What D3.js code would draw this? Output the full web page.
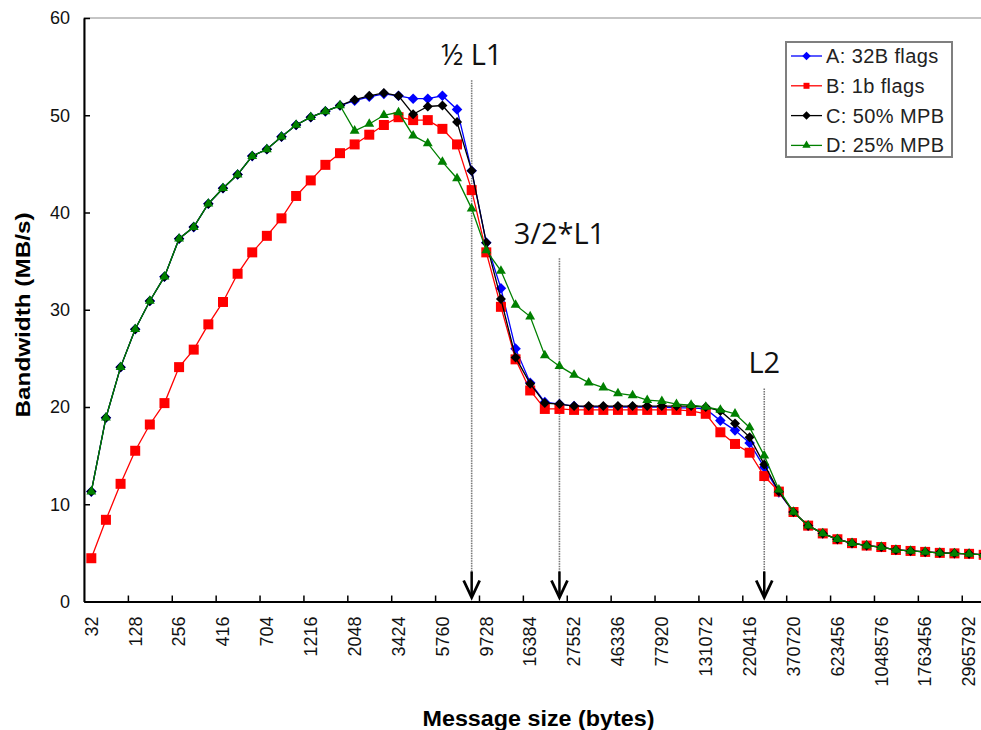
<!DOCTYPE html>
<html>
<head>
<meta charset="utf-8">
<script src="https://cdn.jsdelivr.net/npm/d3@7"></script>
<style>
  body { margin: 0; background: #fff; }
  svg { display: block; font-family: "Liberation Sans", Arial, sans-serif; }
</style>
</head>
<body>
<svg id="chart" width="981" height="730"></svg>
<script>
// tick labels, one every 3 categories (62 message sizes in total)
var tickLabels = ["32","128","256","416","704","1216","2048","3424","5760","9728","16384",
  "27552","46336","77920","131072","220416","370720","623456","1048576","1763456","2965792"];

var seriesA = [11.3,18.9,24.1,28.0,30.9,33.4,37.3,38.5,40.9,42.5,43.9,45.8,46.5,47.8,49.0,49.8,50.4,51.0,
  51.5,51.9,52.2,52.0,51.7,51.7,52.0,50.6,44.3,36.9,32.2,26.0,22.5,20.5,20.3,
  20.1,20.0,20.0,20.0,20.0,20.0,20.0,19.9,19.9,19.8,
  18.6,17.6,16.3,13.8,11.2,
  9.2,7.8,7.0,6.4,6.0,5.75,5.6,5.3,5.2,5.1,5.0,4.95,4.9,4.8];

var seriesB = [4.45,8.4,12.1,15.5,18.2,20.4,24.1,25.9,28.5,30.8,33.7,35.9,37.6,39.4,41.7,43.3,44.9,46.1,
  47.0,48.0,49.0,49.8,49.5,49.5,48.6,47.0,42.3,35.9,30.3,24.9,21.7,19.8,19.8,
  19.7,19.7,19.7,19.7,19.7,19.7,19.7,19.7,19.6,19.3,
  17.4,16.2,15.3,12.9,11.3,
  9.2,7.8,7.0,6.4,6.0,5.75,5.6,5.3,5.2,5.1,5.0,4.95,4.9,4.8];

var seriesC = [11.3,18.9,24.1,28.0,30.9,33.4,37.3,38.5,40.9,42.5,43.9,45.8,46.5,47.8,49.0,49.8,50.4,51.0,
  51.6,52.0,52.3,52.0,50.1,50.9,51.0,49.3,44.3,36.9,31.1,25.1,22.4,20.4,20.3,
  20.1,20.1,20.1,20.1,20.1,20.1,20.1,20.1,20.1,20.0,
  19.6,18.3,16.9,14.1,11.3,
  9.2,7.8,7.0,6.4,6.0,5.75,5.6,5.3,5.2,5.1,5.0,4.95,4.9,4.8];

var seriesD = [11.3,18.9,24.1,28.0,30.9,33.4,37.3,38.5,40.9,42.5,43.9,45.8,46.5,47.8,49.0,49.8,50.4,51.0,
  48.4,49.1,50.0,50.3,47.9,47.1,45.2,43.5,40.4,36.1,34.0,30.5,29.3,25.3,24.2,
  23.3,22.5,22.0,21.4,21.2,20.7,20.6,20.3,20.2,20.0,
  19.7,19.3,17.9,15.0,11.5,
  9.2,7.8,7.0,6.4,6.0,5.75,5.6,5.3,5.2,5.1,5.0,4.95,4.9,4.8];

var seriesNames = ["A: 32B flags", "B: 1b flags", "C: 50% MPB", "D: 25% MPB"];

// cache size markers: category index, value where the dotted line starts, value of the label baseline
var markerNames = ["\u00BD L1", "3/2*L1", "L2"];
var markerIndex = [26, 32, 46];
var markerTop = [53.6, 35.3, 21.9];
var markerLabel = [55.2, 36.8, 23.5];

var svg = d3.select("#chart");

var pLeft = 84, pRight = 991, pTop = 18, pBottom = 601.5;
var n = seriesA.length;

var x = d3.scaleBand().domain(d3.range(n)).range([pLeft, pRight]).padding(0);
var xb = d3.scaleLinear().domain([0, n]).range([pLeft, pRight]);
var y = d3.scaleLinear().domain([0, 60]).range([pBottom, pTop]);
function cx(i){ return x(i) + x.bandwidth() / 2; }

//plot area border
svg.append("rect")
  .attr("x", pLeft).attr("y", pTop)
  .attr("width", pRight - pLeft).attr("height", pBottom - pTop)
  .attr("fill", "none").attr("stroke", "#8c8c8c").attr("stroke-width", 1);

//y axis
var yAxis = svg.append("g")
  .attr("transform", "translate(" + pLeft + ",0)")
  .call(d3.axisLeft(y).tickValues(d3.range(0, 61, 10)).tickSizeInner(-6).tickSizeOuter(0).tickPadding(14));
yAxis.select(".domain").attr("stroke", "#000").attr("stroke-width", 2);
yAxis.selectAll(".tick line").attr("stroke", "#000").attr("stroke-width", 1.5);
yAxis.selectAll("text").attr("font-size", 18).attr("fill", "#111")
  .attr("font-family", "'Liberation Sans', Arial, sans-serif");

//x axis ticks (category boundaries, every 3)
var xTicks = svg.append("g")
  .attr("transform", "translate(0," + pBottom + ")")
  .call(d3.axisBottom(xb).tickValues(d3.range(3, n, 3)).tickSizeInner(-6).tickSizeOuter(0).tickFormat(""));
xTicks.select(".domain").attr("stroke", "#000").attr("stroke-width", 2);
xTicks.selectAll(".tick line").attr("stroke", "#000").attr("stroke-width", 1.5);

//x axis labels at category centres
var xLabels = svg.append("g")
  .attr("transform", "translate(0," + pBottom + ")")
  .call(d3.axisBottom(x).tickValues(d3.range(0, n, 3)).tickSize(0)
    .tickFormat(function(d){ return tickLabels[d / 3]; }));
xLabels.select(".domain").remove();
xLabels.selectAll("text")
  .attr("transform", "rotate(-90)")
  .attr("text-anchor", "end")
  .attr("x", -15).attr("y", 0).attr("dy", "0.35em")
  .attr("font-size", 18).attr("fill", "#111")
  .attr("font-family", "'Liberation Sans', Arial, sans-serif");

//axis titles
svg.append("text")
  .attr("x", (pLeft + 981) / 2 + 6).attr("y", 726)
  .attr("text-anchor", "middle")
  .attr("font-size", 22).attr("font-weight", "bold")
  .attr("textLength", 232).attr("lengthAdjust", "spacingAndGlyphs")
  .text("Message size (bytes)");

svg.append("text")
  .attr("transform", "translate(30,315) rotate(-90)")
  .attr("text-anchor", "middle")
  .attr("font-size", 21).attr("font-weight", "bold")
  .attr("textLength", 205).attr("lengthAdjust", "spacingAndGlyphs")
  .text("Bandwidth (MB/s)");

//cache size markers
var ann = svg.append("g");
markerNames.forEach(function(name, k){
  var px = cx(markerIndex[k]);
  ann.append("line")
    .attr("x1", px).attr("x2", px)
    .attr("y1", y(markerTop[k])).attr("y2", pBottom - 28)
    .attr("stroke", "#777").attr("stroke-width", 1.6).attr("stroke-dasharray", "1.5,1");
  ann.append("line")
    .attr("x1", px).attr("x2", px)
    .attr("y1", pBottom - 30).attr("y2", pBottom - 5)
    .attr("stroke", "#000").attr("stroke-width", 2.5);
  ann.append("path")
    .attr("d", "M" + (px - 8) + "," + (pBottom - 21) + "L" + px + "," + (pBottom - 4) + "L" + (px + 8) + "," + (pBottom - 21))
    .attr("fill", "none").attr("stroke", "#000").attr("stroke-width", 2.8);
  ann.append("text")
    .attr("x", px).attr("y", y(markerLabel[k]))
    .attr("text-anchor", "middle")
    .attr("font-family", "'Open Sans', sans-serif")
    .attr("font-size", 29).attr("fill", "#111")
    .text(name);
});

//series styles
var allSeries = [seriesA, seriesB, seriesC, seriesD];
var colors = ["#0000ff", "#ff0000", "#000000", "#008000"];
var shapes = [
  d3.symbol().type(d3.symbolSquare).size(56),
  d3.symbol().type(d3.symbolSquare).size(100),
  d3.symbol().type(d3.symbolSquare).size(50),
  d3.symbol().type(d3.symbolTriangle).size(42)
];
var rotations = [45, 0, 45, 0];

var line = d3.line()
  .x(function(d, i){ return cx(i); })
  .y(function(d){ return y(d); });

var plot = svg.append("g");
allSeries.forEach(function(data, s){
  plot.append("path")
    .datum(data)
    .attr("d", line)
    .attr("fill", "none")
    .attr("stroke", colors[s])
    .attr("stroke-width", 1.3);

  plot.selectAll(".m" + s)
    .data(data)
    .enter().append("path")
    .attr("class", "m" + s)
    .attr("d", shapes[s])
    .attr("transform", function(d, i){
      return "translate(" + cx(i) + "," + y(d) + ") rotate(" + rotations[s] + ")";
    })
    .attr("fill", colors[s]);
});

//legend
var lg = svg.append("g");
lg.append("rect")
  .attr("x", 786).attr("y", 42)
  .attr("width", 166).attr("height", 115)
  .attr("fill", "#fff").attr("stroke", "#7f7f7f").attr("stroke-width", 2);

seriesNames.forEach(function(name, s){
  var ry = 56 + s * 29.8;
  lg.append("line")
    .attr("x1", 791).attr("x2", 822)
    .attr("y1", ry).attr("y2", ry)
    .attr("stroke", colors[s]).attr("stroke-width", 1.3);
  lg.append("path")
    .attr("d", d3.symbol().type(s == 3 ? d3.symbolTriangle : d3.symbolSquare).size(s == 3 ? 30 : 36))
    .attr("transform", "translate(806.5," + ry + ") rotate(" + rotations[s] + ")")
    .attr("fill", colors[s]);
  lg.append("text")
    .attr("x", 826).attr("y", ry).attr("dy", "0.35em")
    .attr("font-size", 20).attr("fill", "#222")
    .attr("letter-spacing", 0.4)
    .text(name);
});
</script>
</body>
</html>
